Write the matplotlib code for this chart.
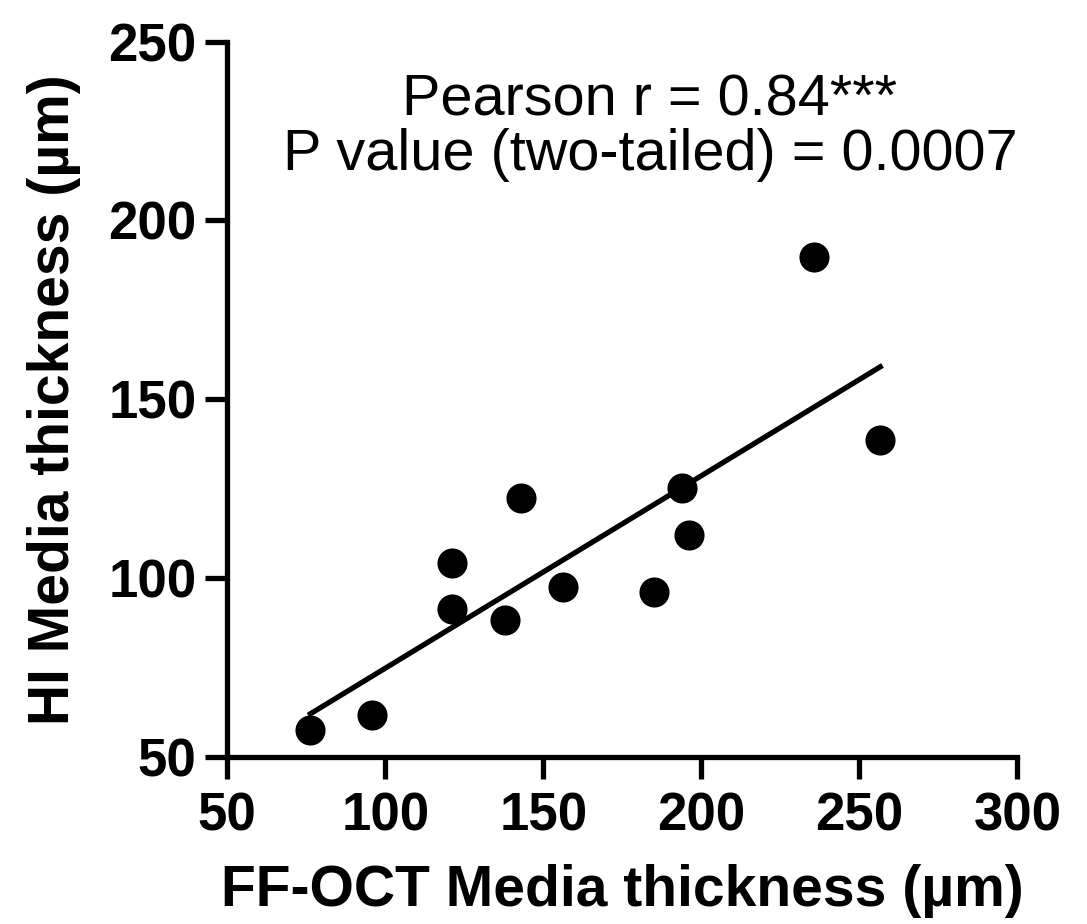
import numpy as np
import matplotlib
matplotlib.use("Agg")
import matplotlib.pyplot as plt

# FF-OCT vs HI media thickness (um)
ffoct = [76.3, 95.9, 121.2, 121.2, 138.0, 143.0, 156.3, 185.1, 194.0, 196.2, 235.8, 256.6]
hi = [57.5, 61.7, 104.3, 91.2, 88.2, 122.4, 97.4, 96.0, 125.2, 112.1, 189.8, 138.6]

xticks = [50, 100, 150, 200, 250, 300]
yticks = [50, 100, 150, 200, 250]

plt.rcParams['font.family'] = ['Liberation Sans', 'DejaVu Sans']

fig = plt.figure(figsize=(10.87, 9.24), dpi=100)
ax = fig.add_axes([0.209, 0.181, 0.727, 0.774])

ax.scatter(ffoct, hi, s=470, color='black', zorder=3, linewidths=0)

# linear regression line over the data range
slope, icept = np.polyfit(ffoct, hi, 1)
xs = np.array([min(ffoct), max(ffoct)])
ax.plot(xs, slope * xs + icept, color='black', lw=3.8)

ax.set_xlim(50, 300)
ax.set_ylim(50, 250)
ax.set_xticks(xticks)
ax.set_yticks(yticks)

for side in ['top', 'right']:
    ax.spines[side].set_visible(False)
for side in ['left', 'bottom']:
    ax.spines[side].set_linewidth(3.8)
ax.tick_params(width=3.8, length=16, labelsize=38, pad=6)
ax.tick_params(axis='x', pad=9)
for lab in ax.get_xticklabels() + ax.get_yticklabels():
    lab.set_fontweight('bold')

ax.set_xlabel('FF-OCT Media thickness (µm)', fontsize=41, fontweight='bold', labelpad=16)
ax.set_ylabel('HI Media thickness (µm)', fontsize=41, fontweight='bold', labelpad=20)

ax.text(0.535, 0.955, 'Pearson r = 0.84***\nP value (two-tailed) = 0.0007',
        transform=ax.transAxes, ha='center', va='top', fontsize=41.5,
        linespacing=1.0)

fig.savefig('out.png', dpi=100)
